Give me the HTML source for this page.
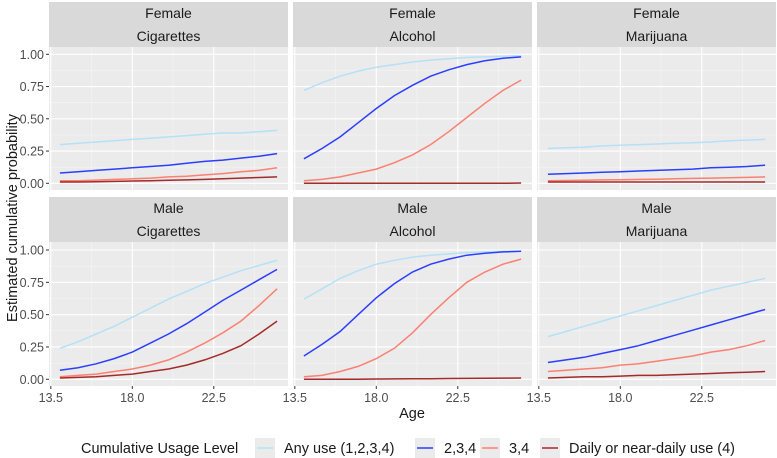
<!DOCTYPE html>
<html><head><meta charset="utf-8"><style>
body{margin:0;background:#fff;}
svg{display:block;font-family:"Liberation Sans",sans-serif;}
</style></head><body>
<svg id="chart" width="777" height="458" viewBox="0 0 777 458"></svg>
<script>
const ages = [14,15,16,17,18,19,20,21,22,23,24,25,26];
const xTicks = [13.5,18.0,22.5];
const yTicks = [0,0.25,0.5,0.75,1];
const levelNames = ["Any use (1,2,3,4)","2,3,4","3,4","Daily or near-daily use (4)"];
const sexes = ["Female","Male"];
const substances = ["Cigarettes","Alcohol","Marijuana"];
const fCigAny = [0.30,0.31,0.32,0.33,0.34,0.35,0.36,0.37,0.38,0.39,0.39,0.40,0.41];
const fCig234 = [0.08,0.09,0.10,0.11,0.12,0.13,0.14,0.155,0.17,0.18,0.195,0.21,0.23];
const fCig34 = [0.02,0.02,0.025,0.03,0.035,0.04,0.05,0.055,0.065,0.075,0.09,0.10,0.12];
const fCig4 = [0.01,0.01,0.012,0.015,0.018,0.02,0.023,0.026,0.03,0.035,0.04,0.045,0.05];
const fAlcAny = [0.72,0.78,0.83,0.87,0.90,0.92,0.94,0.955,0.965,0.975,0.98,0.985,0.99];
const fAlc234 = [0.19,0.27,0.36,0.47,0.58,0.68,0.76,0.83,0.88,0.92,0.95,0.97,0.98];
const fAlc34 = [0.02,0.03,0.05,0.08,0.11,0.16,0.22,0.30,0.40,0.51,0.62,0.72,0.80];
const fAlc4 = [0,0,0,0,0,0,0,0,0,0,0,0,0.002];
const fMarAny = [0.27,0.275,0.28,0.29,0.295,0.30,0.305,0.31,0.315,0.32,0.33,0.335,0.34];
const fMar234 = [0.07,0.075,0.08,0.085,0.09,0.095,0.10,0.105,0.11,0.12,0.125,0.13,0.14];
const fMar34 = [0.02,0.022,0.024,0.026,0.028,0.03,0.032,0.035,0.038,0.04,0.043,0.046,0.05];
const fMar4 = [0.01,0.01,0.01,0.01,0.01,0.01,0.01,0.01,0.01,0.01,0.01,0.01,0.01];
const mCigAny = [0.24,0.29,0.35,0.41,0.48,0.55,0.62,0.68,0.74,0.79,0.84,0.88,0.92];
const mCig234 = [0.07,0.09,0.12,0.16,0.21,0.28,0.35,0.43,0.52,0.61,0.69,0.77,0.85];
const mCig34 = [0.02,0.03,0.04,0.06,0.08,0.11,0.15,0.21,0.28,0.36,0.45,0.57,0.70];
const mCig4 = [0.01,0.015,0.02,0.03,0.04,0.06,0.08,0.11,0.15,0.20,0.26,0.35,0.45];
const mAlcAny = [0.62,0.70,0.78,0.84,0.89,0.92,0.945,0.96,0.97,0.98,0.985,0.99,0.99];
const mAlc234 = [0.18,0.27,0.37,0.50,0.63,0.74,0.83,0.89,0.93,0.96,0.975,0.985,0.99];
const mAlc34 = [0.02,0.03,0.06,0.10,0.16,0.24,0.36,0.50,0.63,0.75,0.83,0.89,0.93];
const mAlc4 = [0,0,0,0,0.002,0.003,0.004,0.005,0.006,0.007,0.008,0.009,0.01];
const mMarAny = [0.33,0.37,0.41,0.45,0.49,0.53,0.57,0.61,0.65,0.69,0.72,0.75,0.78];
const mMar234 = [0.13,0.15,0.17,0.20,0.23,0.26,0.30,0.34,0.38,0.42,0.46,0.50,0.54];
const mMar34 = [0.06,0.07,0.08,0.09,0.11,0.12,0.14,0.16,0.18,0.21,0.23,0.26,0.30];
const mMar4 = [0.01,0.015,0.02,0.02,0.025,0.03,0.03,0.035,0.04,0.045,0.05,0.055,0.06];

const panelSeries = [
 [[fCigAny,fCig234,fCig34,fCig4],[fAlcAny,fAlc234,fAlc34,fAlc4],[fMarAny,fMar234,fMar34,fMar4]],
 [[mCigAny,mCig234,mCig34,mCig4],[mAlcAny,mAlc234,mAlc34,mAlc4],[mMarAny,mMar234,mMar34,mMar4]]
];
const colors = ["#b5e1f7","#2b3dff","#fa8072","#a52a2a"];
const NS="http://www.w3.org/2000/svg";
const svg=document.getElementById('chart');
function mk(tag,attrs,parent){const e=document.createElementNS(NS,tag);for(const k in attrs)e.setAttribute(k,attrs[k]);(parent||svg).appendChild(e);return e;}
const panelX=[49,293,537], panelW=239;
const rowTop=[2,197];
const xMin=13.4,xMax=26.6;
function xs(c,v){return panelX[c]+(v-xMin)/(xMax-xMin)*panelW;}
function ys(r,v){const y0=r===0?183.3:379.3, y1=r===0?54.3:250;return y0+(y1-y0)*v;}

for(let r=0;r<2;r++){
 for(let c=0;c<3;c++){
  const px=panelX[c], top=rowTop[r];
  const g=mk('g',{});
  
  
  const s1=mk('rect',{x:px,y:top,width:panelW,height:22.5,fill:'#d9d9d9'},g);
  
  const s2=mk('rect',{x:px,y:top+22.5,width:panelW,height:22.5,fill:'#d9d9d9'},g);
  
  const t1=mk('text',{x:px+panelW/2,y:top+16,'text-anchor':'middle','font-size':'14',fill:'#1a1a1a'},g);t1.textContent=sexes[r];
  
  const t2=mk('text',{x:px+panelW/2,y:top+39,'text-anchor':'middle','font-size':'14',fill:'#1a1a1a'},g);t2.textContent=substances[c];
  
  const pt=top+45, pb=r===0?190:386;
  const bg=mk('rect',{x:px,y:pt,width:panelW,height:pb-pt,fill:'#ebebeb'},g);
  
  // minor grid
  for(let i=0;i<4;i++){const v=0.125+i*0.25;mk('line',{x1:px,x2:px+panelW,y1:ys(r,v),y2:ys(r,v),stroke:'#f5f5f5','stroke-width':0.6},g);}
  for(let i=0;i<xTicks.length;i++){const v=xTicks[i]+2.25;mk('line',{x1:xs(c,v),x2:xs(c,v),y1:pt,y2:pb,stroke:'#f5f5f5','stroke-width':0.6},g);}
  yTicks.forEach(v=>mk('line',{x1:px,x2:px+panelW,y1:ys(r,v),y2:ys(r,v),stroke:'#fff','stroke-width':1.1},g));
  xTicks.forEach(v=>mk('line',{x1:xs(c,v),x2:xs(c,v),y1:pt,y2:pb,stroke:'#fff','stroke-width':1.1},g));
  panelSeries[r][c].forEach((ser,k)=>{
   const d=ser.map((v,i)=>(i?'L':'M')+xs(c,ages[i]).toFixed(1)+','+ys(r,v).toFixed(1)).join('');
   const p=mk('path',{d:d,fill:'none',stroke:colors[k],'stroke-width':1.5},g);
   
   
  });
  if(c===0){
   yTicks.forEach(v=>{
    mk('line',{x1:px-3,x2:px,y1:ys(r,v),y2:ys(r,v),stroke:'#333'},g);
    const t=mk('text',{x:px-5,y:ys(r,v)+4.5,'text-anchor':'end','font-size':'12.5',fill:'#4d4d4d'},g);t.textContent=v.toFixed(2);
    
   });
  }
  if(r===1){
   xTicks.forEach(v=>{
    mk('line',{x1:xs(c,v),x2:xs(c,v),y1:pb,y2:pb+3,stroke:'#333'},g);
    const t=mk('text',{x:xs(c,v),y:pb+16,'text-anchor':'middle','font-size':'12.5',fill:'#4d4d4d'},g);t.textContent=v.toFixed(1);
    
   });
  }
 }
}
const yt=mk('text',{x:0,y:0,transform:'translate(17,218) rotate(-90)','text-anchor':'middle','font-size':'14.5',fill:'#1a1a1a'});
yt.textContent='Estimated cumulative probability';

const xt=mk('text',{x:412,y:418,'text-anchor':'middle','font-size':'14.5',fill:'#1a1a1a'});
xt.textContent='Age';

const lg=mk('g',{});

const lt=mk('text',{x:81,y:453,'font-size':'14.5',fill:'#1a1a1a'},lg);lt.textContent='Cumulative Usage Level';

const keyX=[255,415,480,540];
levelNames.forEach((n,k)=>{
 const e=mk('g',{},lg);
 
 mk('rect',{x:keyX[k],y:438,width:20,height:20,fill:'#ebebeb'},e);
 mk('line',{x1:keyX[k]+2,x2:keyX[k]+18,y1:448,y2:448,stroke:colors[k],'stroke-width':1.5},e);
 const t=mk('text',{x:keyX[k]+29,y:453,'font-size':'14.5',fill:'#1a1a1a'},e);t.textContent=n;
});
</script>
</body></html>
